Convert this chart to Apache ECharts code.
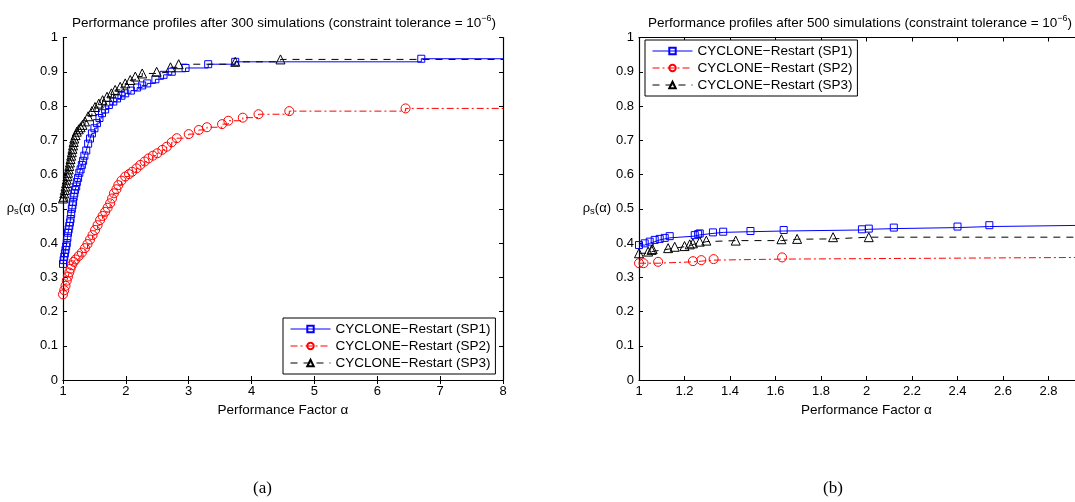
<!DOCTYPE html>
<html>
<head>
<meta charset="utf-8">
<script src="https://cdn.jsdelivr.net/npm/echarts@6/dist/echarts.min.js"></script>
<style>
  html, body { margin: 0; padding: 0; background: #fff; }
  #container { width: 1075px; height: 502px; }
</style>
</head>
<body>
<div id="container"></div>
<script>
// series names
var names = ['CYCLONE\u2212Restart (SP1)', 'CYCLONE\u2212Restart (SP2)', 'CYCLONE\u2212Restart (SP3)'];

// (a) after 300 simulations: [alpha, rho]
var sp1_300 = [[1.0,0.339],[1.01,0.35],[1.02,0.36],[1.03,0.37],[1.04,0.38],[1.05,0.39],[1.06,0.40],[1.07,0.415],[1.08,0.43],[1.09,0.44],[1.10,0.45],[1.11,0.46],[1.12,0.47],[1.13,0.485],[1.14,0.50],[1.15,0.51],[1.16,0.52],[1.17,0.535],[1.18,0.545],[1.19,0.555],[1.21,0.565],[1.22,0.578],[1.24,0.59],[1.26,0.605],[1.28,0.615],[1.30,0.628],[1.32,0.64],[1.34,0.655],[1.37,0.67],[1.40,0.69],[1.43,0.705],[1.46,0.72],[1.50,0.735],[1.54,0.75],[1.58,0.765],[1.62,0.779],[1.67,0.79],[1.73,0.803],[1.80,0.813],[1.86,0.822],[1.93,0.83],[1.99,0.837],[2.08,0.845],[2.18,0.854],[2.26,0.86],[2.34,0.866],[2.47,0.878],[2.60,0.891],[2.73,0.90],[2.95,0.911],[3.31,0.922],[3.74,0.929],[6.70,0.938]];
var sp2_300 = [[1.0,0.25],[1.02,0.262],[1.04,0.275],[1.06,0.29],[1.08,0.302],[1.10,0.314],[1.12,0.325],[1.14,0.335],[1.17,0.345],[1.20,0.352],[1.25,0.362],[1.30,0.372],[1.35,0.385],[1.39,0.397],[1.43,0.41],[1.47,0.423],[1.51,0.438],[1.55,0.452],[1.59,0.467],[1.63,0.479],[1.67,0.491],[1.71,0.503],[1.75,0.516],[1.78,0.53],[1.81,0.545],[1.85,0.557],[1.88,0.569],[1.93,0.582],[1.99,0.594],[2.05,0.601],[2.10,0.608],[2.17,0.618],[2.23,0.628],[2.30,0.638],[2.36,0.647],[2.43,0.655],[2.50,0.662],[2.58,0.672],[2.65,0.681],[2.73,0.694],[2.81,0.706],[3.0,0.718],[3.16,0.73],[3.29,0.738],[3.53,0.747],[3.63,0.757],[3.86,0.766],[4.11,0.776],[4.60,0.785],[6.45,0.793]];
var sp3_300 = [[1.0,0.53],[1.01,0.535],[1.02,0.545],[1.03,0.555],[1.04,0.565],[1.05,0.575],[1.06,0.585],[1.07,0.595],[1.08,0.605],[1.09,0.615],[1.10,0.625],[1.11,0.635],[1.12,0.645],[1.13,0.655],[1.14,0.665],[1.15,0.675],[1.16,0.685],[1.17,0.695],[1.18,0.705],[1.20,0.715],[1.22,0.725],[1.25,0.732],[1.28,0.738],[1.31,0.745],[1.35,0.755],[1.40,0.77],[1.46,0.785],[1.51,0.797],[1.57,0.807],[1.63,0.817],[1.70,0.827],[1.77,0.837],[1.83,0.847],[1.91,0.856],[1.99,0.866],[2.07,0.876],[2.15,0.886],[2.26,0.895],[2.49,0.90],[2.71,0.913],[2.84,0.922],[3.74,0.929],[4.46,0.936]];

// (b) after 500 simulations
var sp1_500 = [[1.0,0.394],[1.025,0.399],[1.047,0.404],[1.069,0.409],[1.091,0.412],[1.113,0.415],[1.135,0.42],[1.245,0.423],[1.26,0.426],[1.267,0.428],[1.325,0.431],[1.37,0.433],[1.49,0.435],[1.636,0.438],[1.98,0.44],[2.01,0.442],[2.12,0.445],[2.40,0.448],[2.54,0.452]];
var sp2_500 = [[1.0,0.341],[1.02,0.341],[1.084,0.345],[1.237,0.347],[1.274,0.35],[1.328,0.353],[1.629,0.358]];
var sp3_500 = [[1.0,0.37],[1.04,0.375],[1.055,0.38],[1.06,0.382],[1.128,0.385],[1.157,0.389],[1.20,0.391],[1.223,0.396],[1.237,0.399],[1.267,0.404],[1.296,0.407],[1.425,0.407],[1.626,0.411],[1.695,0.412],[1.853,0.417],[2.01,0.417]];

var xMaxA = 8, xMaxB = 3;

var FONT = 'Liberation Sans';
var colors = ['#0000ff', '#ff0000', '#000000'];
var symbols = ['rect', 'circle', 'triangle'];
var symSizes = [7, 9, 9];
var dashes = ['solid', [7, 3, 2, 3], [7, 6]];

var dom = document.getElementById('container');
var myChart = echarts.init(dom, null, { renderer: 'canvas' });

function withTail(pts, xmax) {
    var out = pts.map(function (p) { return p; });
    out.push({ value: [xmax, pts[pts.length - 1][1]], symbol: 'none' });
    return out;
}

function makeSeries(i, pts, xmax, axisIdx) {
    return {
        name: names[i],
        type: 'line',
        step: 'end',
        data: withTail(pts, xmax),
        xAxisIndex: axisIdx, yAxisIndex: axisIdx,
        symbol: symbols[i],
        symbolSize: symSizes[i],
        showSymbol: true,
        showAllSymbol: true,
        color: colors[i],
        itemStyle: { color: 'transparent', borderColor: colors[i], borderWidth: 1 },
        lineStyle: { color: colors[i], width: 1, type: dashes[i] },
        animation: false
    };
}

function mainX(grid, min, max, interval) {
    return {
        type: 'value', gridIndex: grid, min: min, max: max, interval: interval,
        name: 'Performance Factor \u03b1', nameLocation: 'middle', nameGap: 20,
        nameTextStyle: { fontFamily: FONT, fontSize: 13.5, color: '#000' },
        splitLine: { show: false },
        axisLine: { lineStyle: { color: '#000', width: 1.2 } },
        axisTick: { inside: true, length: 4, lineStyle: { color: '#000' } },
        axisLabel: { color: '#000', fontFamily: FONT, fontSize: 13, margin: 5 }
    };
}
function topX(grid, min, max, interval) {
    return {
        type: 'value', gridIndex: grid, min: min, max: max, interval: interval, position: 'top',
        splitLine: { show: false },
        axisLine: { lineStyle: { color: '#000', width: 1.2 } },
        axisTick: { inside: true, length: 4, lineStyle: { color: '#000' } },
        axisLabel: { show: false }
    };
}
function mainY(grid) {
    return {
        type: 'value', gridIndex: grid, min: 0, max: 1, interval: 0.1,
        name: '{a|\u03c1}{s|s}{a|(\u03b1)}', nameLocation: 'middle', nameRotate: 0, nameGap: 25,
        nameTextStyle: {
            align: 'right',
            rich: {
                a: { fontFamily: FONT, fontSize: 13, color: '#000' },
                s: { fontFamily: FONT, fontSize: 9.5, color: '#000', padding: [6, 0, 0, 0] }
            }
        },
        splitLine: { show: false },
        axisLine: { lineStyle: { color: '#000', width: 1.2 } },
        axisTick: { inside: true, length: 4, lineStyle: { color: '#000' } },
        axisLabel: { color: '#000', fontFamily: FONT, fontSize: 13, margin: 5 }
    };
}
function rightY(grid) {
    return {
        type: 'value', gridIndex: grid, min: 0, max: 1, interval: 0.1, position: 'right',
        splitLine: { show: false },
        axisLine: { lineStyle: { color: '#000', width: 1.2 } },
        axisTick: { inside: true, length: 4, lineStyle: { color: '#000' } },
        axisLabel: { show: false }
    };
}

function titleText(n) {
    return '{a|Performance profiles after ' + n + ' simulations (constraint tolerance = 10}{s|\u22126}{a|)}';
}
var titleRich = {
    a: { fontFamily: FONT, fontSize: 13.5, fontWeight: 'normal', color: '#000' },
    s: { fontFamily: FONT, fontSize: 9, fontWeight: 'normal', color: '#000', padding: [0, 0, 9, 0] }
};

function legendBox(left, top) {
    return {
        data: names,
        orient: 'vertical',
        left: left, top: top,
        itemWidth: 40, itemHeight: 8, itemGap: 3,
        padding: [4, 5, 4, 7],
        borderColor: '#000', borderWidth: 1,
        backgroundColor: '#fff',
        lineStyle: { width: 1 },
        textStyle: { fontFamily: FONT, fontSize: 13.5, color: '#000' }
    };
}

var option = {
    animation: false,
    backgroundColor: '#fff',
    title: [
        { text: titleText(300), left: 279, top: 9, textAlign: 'center', textStyle: { fontWeight: 'normal', rich: titleRich } },
        { text: titleText(500), left: 855, top: 9, textAlign: 'center', textStyle: { fontWeight: 'normal', rich: titleRich } }
    ],
    legend: [legendBox(283, 318), legendBox(645, 40)],
    grid: [
        { left: 63, top: 37.5, width: 440, height: 342.5, outerBoundsMode: 'none', containLabel: false },
        { left: 639, top: 37.5, width: 455, height: 342.5, outerBoundsMode: 'none', containLabel: false }
    ],
    xAxis: [mainX(0, 1, xMaxA, 1), mainX(1, 1, xMaxB, 0.2), topX(0, 1, xMaxA, 1), topX(1, 1, xMaxB, 0.2)],
    yAxis: [mainY(0), mainY(1), rightY(0)],
    graphic: [
        { type: 'text', left: 253, top: 480, style: { text: '(a)', font: '17px "Liberation Serif"', fill: '#000' } },
        { type: 'text', left: 823, top: 480, style: { text: '(b)', font: '17px "Liberation Serif"', fill: '#000' } }
    ],
    series: [
        makeSeries(0, sp1_300, xMaxA, 0),
        makeSeries(1, sp2_300, xMaxA, 0),
        makeSeries(2, sp3_300, xMaxA, 0),
        makeSeries(0, sp1_500, xMaxB, 1),
        makeSeries(1, sp2_500, xMaxB, 1),
        makeSeries(2, sp3_500, xMaxB, 1)
    ]
};

myChart.setOption(option);
window.addEventListener('resize', myChart.resize);
</script>
</body>
</html>
